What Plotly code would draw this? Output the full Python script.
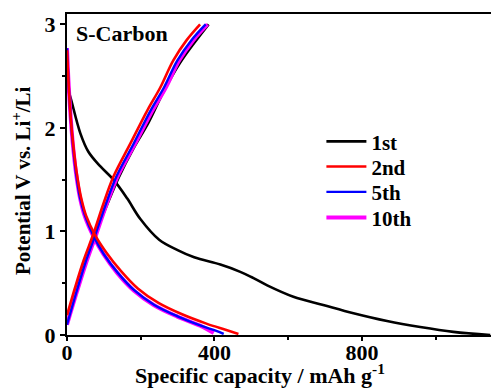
import plotly.graph_objects as go

# ---- data ----
# 1st cycle
d1_x = [0, 9, 36, 58, 90, 126, 163, 199, 250, 300, 345, 416, 470, 500, 543, 614, 695, 777, 868, 958, 1048, 1148]
d1_y = [2.40, 2.30, 1.95, 1.77, 1.63, 1.50, 1.32, 1.12, 0.92, 0.82, 0.75, 0.68, 0.61, 0.56, 0.48, 0.37, 0.29, 0.21, 0.135, 0.077, 0.03, 0.0]
c1_x = [0, 15, 35, 60, 85, 110, 140, 180, 221, 262, 307, 345, 384]
c1_y = [0.10, 0.30, 0.55, 0.82, 1.05, 1.27, 1.52, 1.80, 2.05, 2.35, 2.63, 2.82, 3.0]

# 2nd cycle
d2_x = [0, 4, 10, 18, 27, 38, 52, 77, 106, 146, 192, 248, 312, 378, 430, 465]
d2_y = [2.75, 2.45, 2.10, 1.80, 1.55, 1.33, 1.15, 0.96, 0.80, 0.62, 0.45, 0.31, 0.20, 0.11, 0.05, 0.01]
c2_x = [0, 22, 45, 72, 99, 126, 172, 218, 253, 288, 325, 361]
c2_y = [0.19, 0.46, 0.72, 0.98, 1.27, 1.53, 1.85, 2.17, 2.39, 2.65, 2.85, 3.0]

# 5th cycle
d5_x = [0, 4, 10, 17, 25, 35, 49, 73, 100, 138, 183, 237, 300, 363, 405, 425]
d5_y = [2.77, 2.45, 2.10, 1.80, 1.55, 1.33, 1.15, 0.95, 0.78, 0.60, 0.43, 0.29, 0.18, 0.09, 0.04, 0.01]
c5_x = [0, 26, 50, 78, 106, 134, 181, 227, 263, 299, 338, 376]
c5_y = [0.10, 0.42, 0.70, 0.98, 1.27, 1.53, 1.85, 2.17, 2.39, 2.65, 2.85, 3.0]

# 10th cycle
d10_x = [0, 4, 10, 17, 25, 35, 48, 72, 99, 136, 181, 235, 298, 361, 398]
d10_y = [2.77, 2.45, 2.10, 1.80, 1.55, 1.33, 1.15, 0.95, 0.78, 0.60, 0.43, 0.29, 0.18, 0.09, 0.02]
c10_x = [0, 27, 52, 80, 108, 137, 185, 232, 268, 304, 343, 381]
c10_y = [0.10, 0.42, 0.70, 0.98, 1.27, 1.53, 1.85, 2.17, 2.39, 2.65, 2.85, 3.0]

names = ["1st", "2nd", "5th", "10th"]
colors = ["#000000", "#ff0000", "#0000ff", "#ff00ff"]
x_ticks = [0, 400, 800]
y_ticks = [0, 1, 2, 3]

FONT = "Liberation Serif"

fig = go.Figure()

# (name, colour, discharge x/y, charge x/y, width, legend id)
curves = [
    (names[0], colors[0], d1_x, d1_y, c1_x, c1_y, 2.6, "legend"),
    (names[3], colors[3], d10_x, d10_y, c10_x, c10_y, 4.0, "legend4"),
    (names[2], colors[2], d5_x, d5_y, c5_x, c5_y, 2.4, "legend3"),
    (names[1], colors[1], d2_x, d2_y, c2_x, c2_y, 2.6, "legend2"),
]
for name, col, dx, dy, cx, cy, w, leg in curves:
    fig.add_trace(go.Scatter(x=dx, y=dy, mode="lines", name=name, legend=leg,
                             line=dict(color=col, width=w, shape="spline"),
                             showlegend=True))
    fig.add_trace(go.Scatter(x=cx, y=cy, mode="lines", name=name, legend=leg,
                             line=dict(color=col, width=w, shape="spline"),
                             showlegend=False))

def leg_style(row_px):
    return dict(x=0.60, y=(335 - row_px) / 321, xanchor="left", yanchor="middle",
                bgcolor="rgba(0,0,0,0)", borderwidth=0,
                font=dict(family=FONT, size=21, color="black", weight="bold"),
                itemwidth=40)

fig.update_layout(
    width=491, height=389,
    margin=dict(l=67, r=0, t=14, b=54),
    paper_bgcolor="white", plot_bgcolor="white",
    font=dict(family=FONT, size=21, color="black"),
    showlegend=True,
    legend=leg_style(141.7),
    legend2=leg_style(166.9),
    legend3=leg_style(192.2),
    legend4=leg_style(217.8),
    xaxis=dict(range=[0, 1150], tickvals=x_ticks, ticktext=[f"<b>{v}</b>" for v in x_ticks],
               showgrid=False, zeroline=False, showline=True, linecolor="black", linewidth=2,
               mirror=True, ticks="outside", ticklen=4, tickwidth=1.5, tickcolor="black",
               ticklabelstandoff=-7,
               minor=dict(tickvals=[200, 600, 1000], ticks="outside", ticklen=3, tickwidth=1.5,
                          tickcolor="black", showgrid=False),
               tickfont=dict(family=FONT, size=22, color="black")),
    yaxis=dict(range=[0, 3.1], tickvals=y_ticks, ticktext=[f"<b>{v}</b>" for v in y_ticks],
               showgrid=False, zeroline=False, showline=True, linecolor="black", linewidth=2,
               mirror=False, ticks="outside", ticklen=5, tickwidth=1.5, tickcolor="black",
               minor=dict(tickvals=[0.5, 1.5, 2.5], ticks="outside", ticklen=3, tickwidth=1.5,
                          tickcolor="black", showgrid=False),
               tickfont=dict(family=FONT, size=22, color="black")),
    annotations=[
        dict(text="<b>S-Carbon</b>", xref="paper", yref="paper", x=0.017, y=0.938,
             xanchor="left", yanchor="middle", showarrow=False,
             font=dict(family=FONT, size=22, color="black")),
        dict(text="<b>Specific capacity / mAh g<sup>-1</sup></b>", xref="paper", yref="paper",
             x=(260 - 67) / 424, y=-0.12, xanchor="center", yanchor="middle", showarrow=False,
             font=dict(family=FONT, size=22, color="black")),
        dict(text="<b>Potential V vs. Li<sup>+</sup>/Li</b>", xref="paper", yref="paper",
             x=(22 - 67) / 424, y=(335 - 181) / 321, xanchor="center", yanchor="middle",
             textangle=-90, showarrow=False,
             font=dict(family=FONT, size=21, color="black")),
    ],
)

fig.write_html("out.html")
